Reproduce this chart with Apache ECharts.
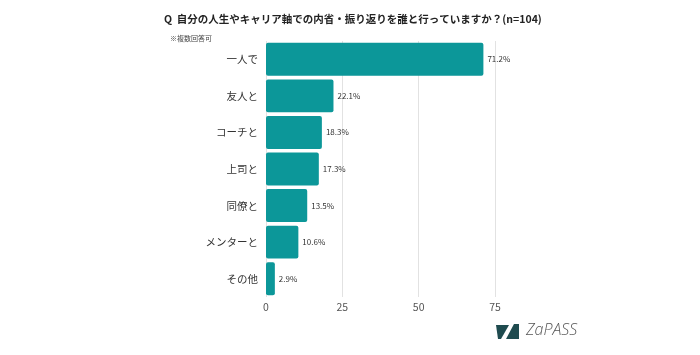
<!DOCTYPE html>
<html>
<head>
<meta charset="utf-8">
<script src="https://cdn.jsdelivr.net/npm/echarts@6/dist/echarts.min.js"></script>
<style>html,body{margin:0;padding:0;background:#fff;}#c{width:700px;height:355px;}</style>
</head>
<body>
<div id="c"></div>
<script>
const titleText = 'Q  自分の人生やキャリア軸での内省・振り返りを誰と行っていますか？(n=104)';
const noteText = '※複数回答可';
const categories = ['一人で', '友人と', 'コーチと', '上司と', '同僚と', 'メンターと', 'その他'];
const values = [71.2, 22.1, 18.3, 17.3, 13.5, 10.6, 2.9];
const xTicks = [0, 25, 50, 75];

const font = '"Noto Sans CJK JP", "Noto Sans", sans-serif';
const chart = echarts.init(document.getElementById('c'), null, {renderer: 'canvas'});
chart.setOption({
  backgroundColor: '#ffffff',
  animation: false,
  textStyle: {fontFamily: font},
  title: [
    {text: titleText, left: 159, top: 9, textStyle: {fontSize: 10.5, fontWeight: 'bold', color: '#222', fontFamily: font}},
    {text: noteText, left: 165, top: 30, textStyle: {fontSize: 7, fontWeight: 'normal', color: '#444', fontFamily: font}}
  ],
  grid: {left: 266, right: 205, top: 41, bottom: 58, containLabel: false},
  xAxis: {
    type: 'value', min: xTicks[0], max: xTicks[xTicks.length - 1], interval: 25,
    axisLine: {show: false}, axisTick: {show: false},
    splitLine: {show: true, lineStyle: {color: '#e2e2e2', width: 1}},
    axisLabel: {fontSize: 10.5, color: '#555', margin: 5, fontFamily: font}
  },
  yAxis: {
    type: 'category', data: categories, inverse: true,
    axisLine: {show: false}, axisTick: {show: false},
    axisLabel: {fontSize: 10.5, color: '#333', margin: 8, fontFamily: font}
  },
  series: [{
    type: 'bar', data: values, barCategoryGap: '10%',
    itemStyle: {color: '#0c9799', borderRadius: 2},
    label: {show: true, position: 'right', distance: 4, fontSize: 8, color: '#333', fontFamily: font,
      formatter: p => p.value.toFixed(1) + '%'}
  }],
  graphic: [
    {type: 'polygon', shape: {points: [[496, 325], [509, 325], [501, 339], [498, 339]]}, style: {fill: '#1f4b4f'}},
    {type: 'polygon', shape: {points: [[514, 324], [519, 324], [519, 339], [506, 339]]}, style: {fill: '#1f4b4f'}},
    {type: 'text', left: 526, top: 322, style: {text: 'ZaPASS', fontSize: 16, fontStyle: 'italic', fill: '#555', fontFamily: '"Open Sans", sans-serif', fontWeight: 300}}
  ]
});
</script>
</body>
</html>
